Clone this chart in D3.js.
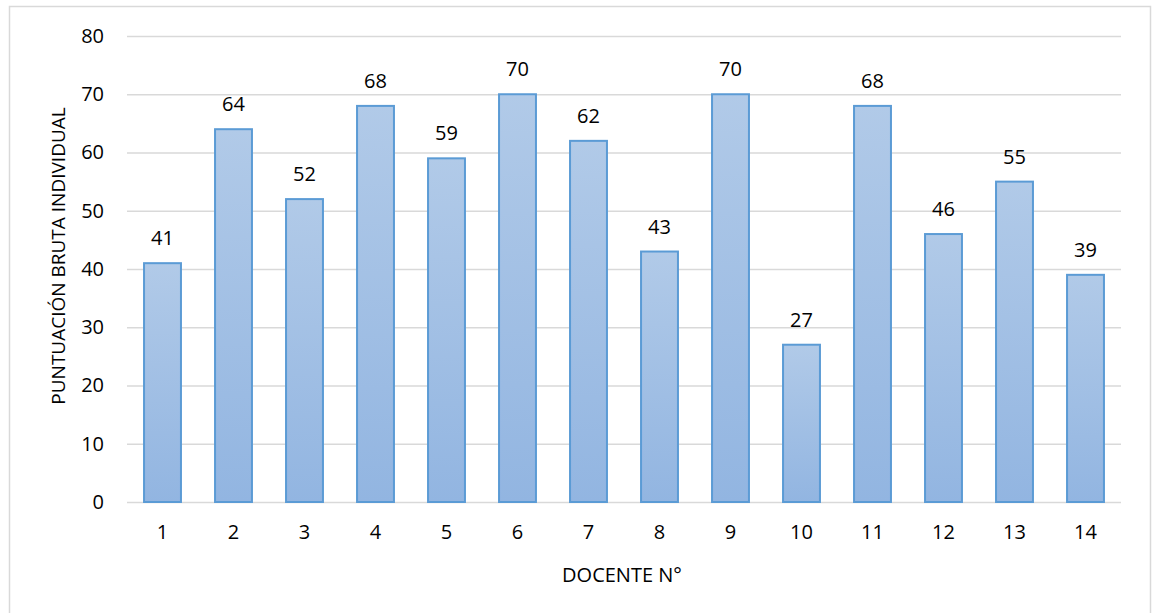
<!DOCTYPE html>
<html>
<head>
<meta charset="utf-8">
<script src="https://cdn.jsdelivr.net/npm/d3@7"></script>
<style>
  html, body { margin: 0; padding: 0; background: #fff; }
  text { font-family: "Open Sans", "Noto Sans", sans-serif; fill: #000; }
</style>
</head>
<body>
<svg id="chart" width="1152" height="613"></svg>
<script>
// Raw score per teacher
const docentes = ["1","2","3","4","5","6","7","8","9","10","11","12","13","14"];
const puntuacion = [41, 64, 52, 68, 59, 70, 62, 43, 70, 27, 68, 46, 55, 39];
const yTicks = [0, 10, 20, 30, 40, 50, 60, 70, 80];

const svg = d3.select("#chart");
const W = 1152, H = 613;
const m = { left: 127, right: 31, top: 36, bottom: 111 };

// Outer chart frame
svg.append("rect")
  .attr("x", 9.5).attr("y", 6.5)
  .attr("width", 1141).attr("height", 620)
  .attr("fill", "#fff").attr("stroke", "#d9d9d9").attr("stroke-width", 1.5);

const x = d3.scaleBand()
  .domain(docentes)
  .range([m.left, W - m.right])
  .paddingInner(0.48).paddingOuter(0.24);

const y = d3.scaleLinear().domain([0, 80]).range([H - m.bottom, m.top]);

const defs = svg.append("defs");
const grad = defs.append("linearGradient")
  .attr("id", "barFill").attr("x1", 0).attr("y1", 0).attr("x2", 0).attr("y2", 1);
grad.append("stop").attr("offset", "0%").attr("stop-color", "#b1cae8");
grad.append("stop").attr("offset", "100%").attr("stop-color", "#92b5e1");

// Horizontal gridlines
const yAxis = d3.axisLeft(y).tickValues(yTicks).tickSize(-(W - m.left - m.right)).tickPadding(23);
const gy = svg.append("g").attr("transform", `translate(${m.left},0)`).call(yAxis);
gy.select(".domain").remove();
gy.selectAll(".tick line").attr("stroke", "#d9d9d9").attr("stroke-width", 1.5);
gy.selectAll(".tick text").style("font-size", "20px").attr("fill", "#000");

// Category axis
const xAxis = d3.axisBottom(x).tickSize(0).tickPadding(23);
const gx = svg.append("g").attr("transform", `translate(0,${H - m.bottom})`).call(xAxis);
gx.select(".domain").remove();
gx.selectAll(".tick text").style("font-size", "20px").attr("fill", "#000");

// Bars
svg.append("g").selectAll("rect")
  .data(puntuacion)
  .join("rect")
  .attr("x", (d, i) => x(docentes[i]))
  .attr("y", d => y(d))
  .attr("width", x.bandwidth())
  .attr("height", d => y(0) - y(d))
  .attr("fill", "url(#barFill)")
  .attr("stroke", "#5b9bd5")
  .attr("stroke-width", 2);

// Value labels
svg.append("g").selectAll("text")
  .data(puntuacion)
  .join("text")
  .attr("x", (d, i) => x(docentes[i]) + x.bandwidth() / 2)
  .attr("y", d => y(d) - 18)
  .attr("text-anchor", "middle")
  .style("font-size", "20px")
  .text(d => d);

// Axis titles
svg.append("text")
  .attr("x", (m.left + W - m.right) / 2 - 2)
  .attr("y", 582)
  .attr("text-anchor", "middle")
  .style("font-size", "20px")
  .text("DOCENTE N°");

svg.append("text")
  .attr("transform", `translate(65,256) rotate(-90)`)
  .attr("text-anchor", "middle")
  .style("font-size", "19px")
  .text("PUNTUACIÓN BRUTA INDIVIDUAL");
</script>
</body>
</html>
